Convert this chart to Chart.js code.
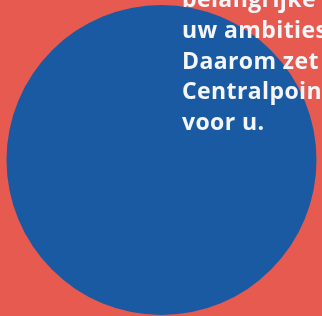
<!DOCTYPE html>
<html>
<head>
<meta charset="utf-8">
<script src="https://cdn.jsdelivr.net/npm/chart.js@4"></script>
<style>
  html, body { margin: 0; padding: 0; }
  body { width: 322px; height: 316px; background: #e65a50; overflow: hidden; position: relative; }
  #wrap { position: absolute; left: 0; top: 0; width: 322px; height: 316px; }
  #txt {
    position: absolute; left: 182px; top: -17px; width: 220px;
    color: #f4f6fa; font-family: "Open Sans", Inter, sans-serif; font-weight: 700;
    font-size: 23px; line-height: 30.75px; white-space: nowrap; letter-spacing: 0.4px;
  }
</style>
</head>
<body>
<div id="wrap"><canvas id="myChart" width="322" height="316"></canvas></div>
<div id="txt">belangrijke<br>uw ambities<br>Daarom zet<br>Centralpoint<br>voor u.</div>
<script>
// one full slice = the big circle
const labels = ['Cirkel'];
const values = [1];
const colors = ['#1a5aa3'];

const ctx = document.getElementById('myChart').getContext('2d');
const myChart = new Chart(ctx, {
    type: 'pie',
    data: {
        labels: labels,
        datasets: [{
            data: values,
            backgroundColor: colors,
            borderWidth: 0,
            hoverOffset: 0
        }]
    },
    options: {
        responsive: false,
        animation: false,
        layout: { padding: { left: 6, right: 5, top: 5, bottom: 1 } },
        plugins: {
            legend: { display: false },
            tooltip: { enabled: false }
        }
    }
});
</script>
</body>
</html>
